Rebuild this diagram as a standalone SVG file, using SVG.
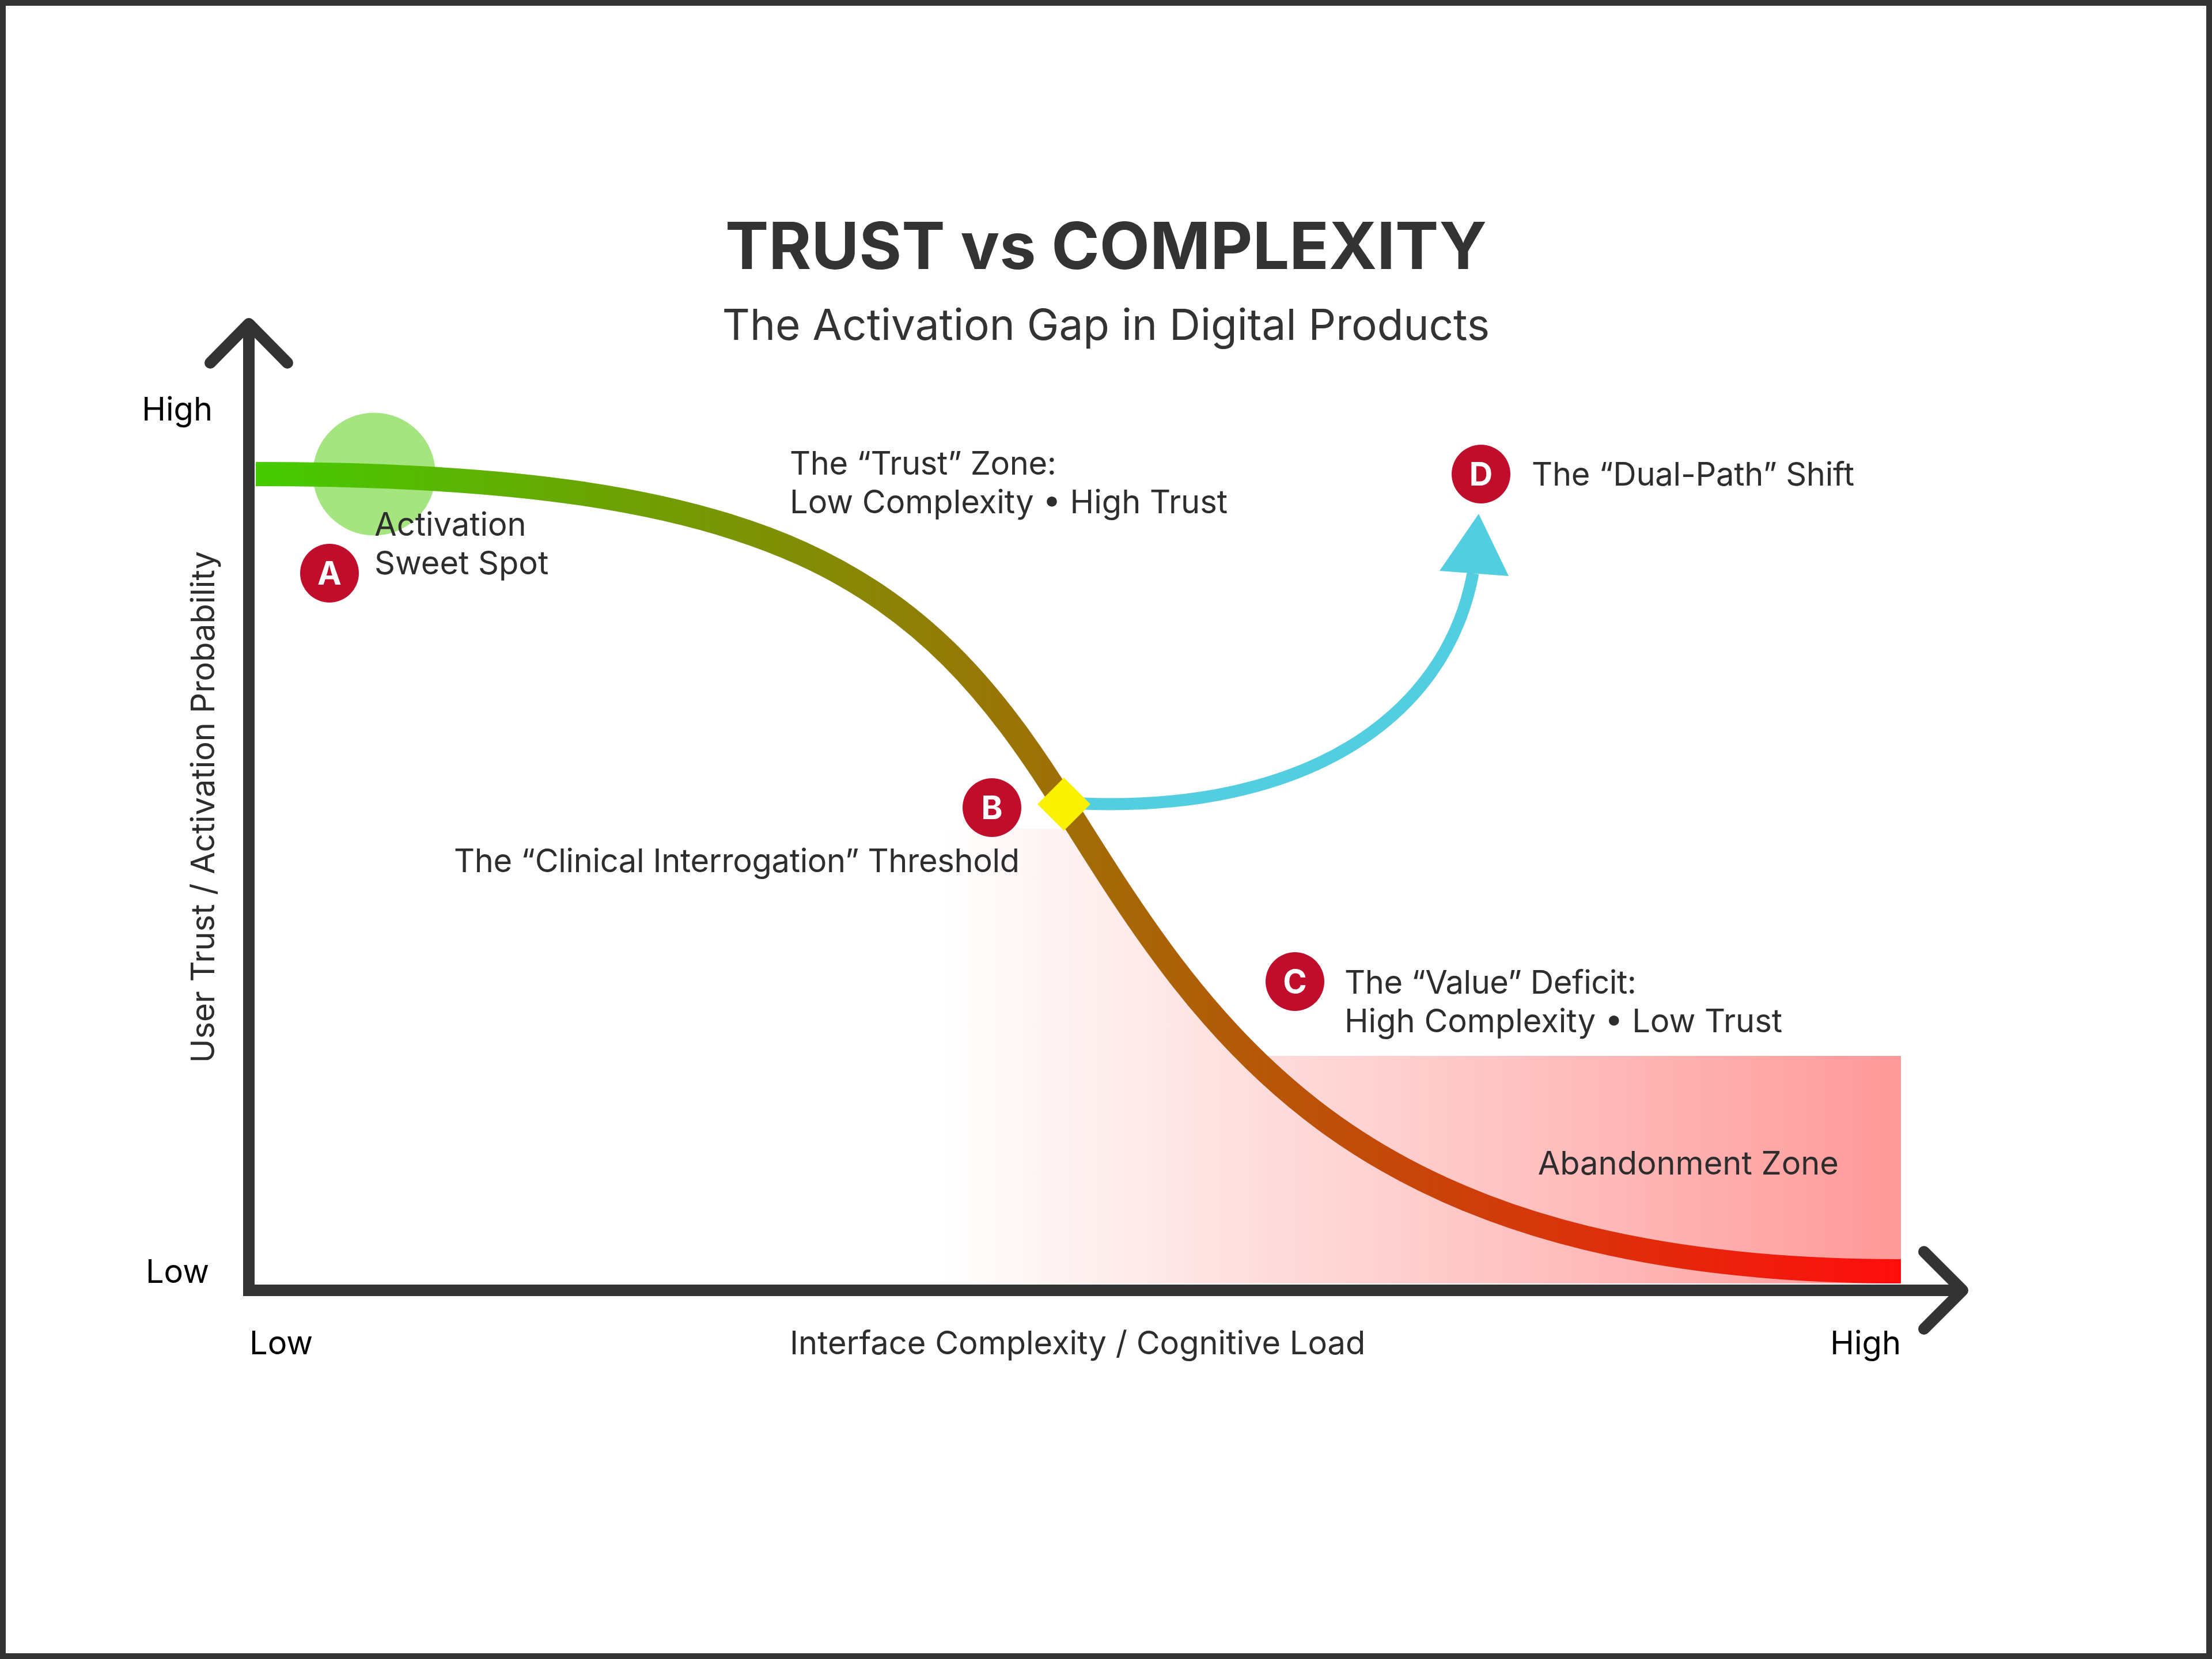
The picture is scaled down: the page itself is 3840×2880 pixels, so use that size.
<svg xmlns="http://www.w3.org/2000/svg" width="3840" height="2880" viewBox="0 0 3840 2880">
<style>
text{font-family:Inter,"Noto Sans","Liberation Sans",sans-serif;fill:#2d2d2d;font-size:56px;font-weight:400}
.title{font-size:113px;font-weight:700;text-anchor:middle;fill:#333}
.sub{font-size:74.6px;text-anchor:middle;fill:#333}
.ax{fill:#000}
.end{text-anchor:end}
.badge circle{fill:#c00d2c}
.badge text{fill:#fff;font-weight:700;text-anchor:middle}
.axis{fill:none;stroke:#333;stroke-width:20;stroke-linecap:round;stroke-linejoin:round}
.axis-line{fill:none;stroke:#333;stroke-width:20}
</style>
<defs>
<linearGradient id="curveGrad" gradientUnits="userSpaceOnUse" x1="444" y1="0" x2="3300" y2="0"><stop offset="0" stop-color="#44cc00"/><stop offset="1" stop-color="#ff0d0d"/></linearGradient>
<linearGradient id="zoneGrad" gradientUnits="userSpaceOnUse" x1="1630" y1="0" x2="3300" y2="0"><stop offset="0" stop-color="#ff9999" stop-opacity="0"/><stop offset="1" stop-color="#ff9999"/></linearGradient>
</defs>
<rect x="5" y="5" width="3830" height="2870" fill="#fff" stroke="#333" stroke-width="10"/>
<g id="title"><text class="title" x="1920" y="467">TRUST vs COMPLEXITY</text><text class="sub" x="1920" y="590">The Activation Gap in Digital Products</text></g>
<g id="abandonment-zone">
<path d="M1630 1439H1878C1960 1590 2070 1730 2192 1833H3300V2228H1630Z" fill="url(#zoneGrad)"/>
<text x="3192" y="2039" class="end">Abandonment Zone</text></g>
<g id="sweet-spot-halo"><circle cx="649.5" cy="823" r="106.5" fill="#a4e57f"/></g>
<g id="connectors">
<path id="trust-curve" d="M444 823C1350 823 1600 1000 1847 1396C2100 1800 2350 2207 3300 2207" fill="none" stroke="url(#curveGrad)" stroke-width="42"/>
<path id="dual-path" d="M1880 1395C2260 1410 2510 1250 2557 995" fill="none" stroke="#53cde0" stroke-width="21"/>
<polygon points="2567,892 2499,991 2619,1000" fill="#53cde0"/>
<line class="axis-line" x1="432" y1="2250" x2="432" y2="562"/><polyline class="axis" points="365,630 432,562 499,630"/>
<line class="axis-line" x1="422" y1="2240" x2="3407" y2="2240"/><polyline class="axis" points="3340,2173 3407,2240 3340,2307"/>
</g>
<g id="threshold-marker"><polygon points="1847,1350 1893,1396 1847,1442 1801,1396" fill="#f9f100"/></g>
<g id="node-a" class="badge"><circle cx="572" cy="995" r="51"/><text x="572" y="1015">A</text></g>
<text x="650" y="930">Activation</text><text x="650" y="997">Sweet Spot</text>
<g id="node-b" class="badge"><circle cx="1722" cy="1402" r="51"/><text x="1722" y="1422">B</text></g>
<text x="1770" y="1514" class="end" textLength="982">The “Clinical Interrogation” Threshold</text>
<g id="node-c" class="badge"><circle cx="2248" cy="1704" r="51"/><text x="2248" y="1724">C</text></g>
<text x="2334" y="1725" textLength="507">The “Value” Deficit:</text><text x="2334" y="1792">High Complexity • Low Trust</text>
<g id="node-d" class="badge"><circle cx="2571" cy="823" r="51"/><text x="2571" y="843">D</text></g>
<text x="2659" y="843" textLength="560">The “Dual-Path” Shift</text>
<g id="trust-zone"><text x="1371" y="824" textLength="463">The “Trust” Zone:</text><text x="1371" y="891">Low Complexity • High Trust</text></g>
<g id="axis-labels">
<text class="ax end" x="369" y="730">High</text><text class="ax end" x="363" y="2227">Low</text>
<text class="ax" x="433" y="2351">Low</text><text x="1371" y="2351">Interface Complexity / Cognitive Load</text><text class="ax end" x="3300" y="2351">High</text>
<text transform="translate(372,1401) rotate(-90)" text-anchor="middle">User Trust / Activation Probability</text>
</g>
</svg>
